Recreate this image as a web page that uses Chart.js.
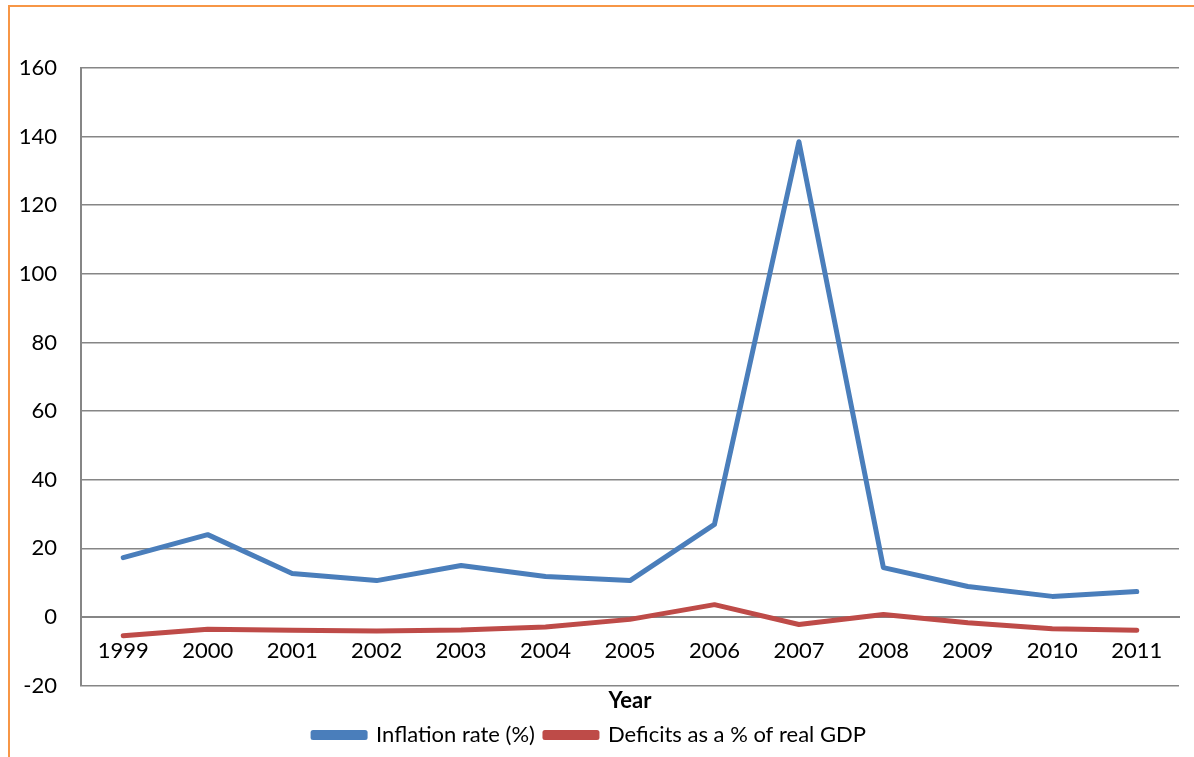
<!DOCTYPE html>
<html>
<head>
<meta charset="utf-8">
<script src="https://cdn.jsdelivr.net/npm/chart.js@4"></script>
<style>
  html, body { margin: 0; padding: 0; background: #fff; }
  #frame { position: absolute; left: 8px; top: 5px; width: 1186px; height: 752px;
           border-top: 2px solid #F79646; border-left: 2px solid #F79646; box-sizing: border-box; }
  #wrap { position: absolute; left: 0; top: 0; width: 1194px; height: 757px; }
</style>
</head>
<body>
<div id="frame"></div>
<div id="wrap"><canvas id="chart" width="1194" height="757"></canvas></div>
<script>
'use strict';

const years = ['1999', '2000', '2001', '2002', '2003', '2004', '2005', '2006', '2007', '2008', '2009', '2010', '2011'];
const inflation = [17.3, 24, 12.7, 10.6, 15, 11.8, 10.6, 27, 138.5, 14.4, 8.9, 6, 7.4];
const deficits = [-5.5, -3.6, -3.9, -4.1, -3.8, -2.9, -0.7, 3.6, -2.2, 0.7, -1.7, -3.4, -3.9];
const yMin = -20;
const yMax = 160;
const yStep = 20;

const FONT = 'Lato, "Open Sans", "Liberation Sans", sans-serif';
const GRID = '#868686';

new Chart(document.getElementById('chart').getContext('2d'), {
  type: 'line',
  data: {
    labels: years,
    datasets: [
      { label: 'Inflation rate (%)', data: inflation, borderColor: '#4A7EBB', backgroundColor: '#4A7EBB',
        borderWidth: 5, pointRadius: 0, tension: 0, borderCapStyle: 'round', borderJoinStyle: 'round' },
      { label: 'Deficits as a % of real GDP', data: deficits, borderColor: '#BE4B48', backgroundColor: '#BE4B48',
        borderWidth: 5, pointRadius: 0, tension: 0, borderCapStyle: 'round', borderJoinStyle: 'round' }
    ]
  },
  options: {
    responsive: false,
    animation: false,
    layout: { padding: { left: 0, right: 15, top: 68, bottom: 1 } },
    scales: {
      x: {
        position: { y: 0 },
        offset: true,
        grid: { display: false, drawTicks: false, offset: true },
        border: { display: true, color: GRID, width: 2 },
        ticks: { color: '#000', font: { family: FONT, size: 22 }, padding: 21, maxRotation: 0 }
      },
      y: {
        min: yMin,
        max: yMax,
        ticks: { stepSize: yStep, color: '#000', font: { family: FONT, size: 22 }, padding: 24 },
        grid: { color: GRID, lineWidth: 1.5, drawTicks: false },
        border: { display: true, color: GRID, width: 2 },
        afterFit(scale) { scale.width = 81; }
      }
    },
    plugins: {
      title: {
        display: true,
        text: 'Year',
        position: 'bottom',
        fullSize: false,
        color: '#000',
        font: { family: FONT, size: 22, weight: 'bold' },
        padding: { top: 2, bottom: 0 }
      },
      legend: {
        position: 'bottom',
        weight: 3000,
        labels: {
          color: '#000',
          font: { family: FONT, size: 22 },
          boxWidth: 52,
          boxHeight: 5,
          padding: 10
        }
      },
      tooltip: { enabled: false }
    }
  }
});
</script>
</body>
</html>
